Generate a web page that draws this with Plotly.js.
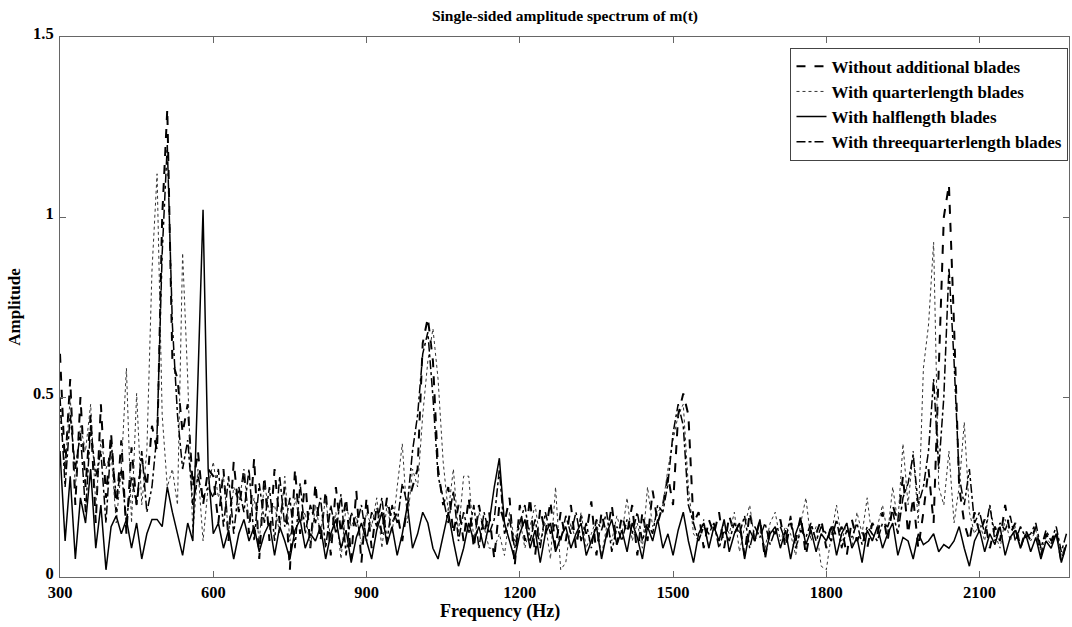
<!DOCTYPE html>
<html>
<head>
<meta charset="utf-8">
<script src="https://cdn.plot.ly/plotly-3.0.1.min.js"></script>
<style>html,body{margin:0;padding:0;background:#fff;}#chart{width:1072px;height:627px;}</style>
</head>
<body>
<div id="chart"></div>
<script>
// Frequency grid (Hz), 10 Hz resolution
const frequency = [
 300,310,320,330,340,350,360,370,380,390,
 400,410,420,430,440,450,460,470,480,490,
 500,510,520,530,540,550,560,570,580,590,
 600,610,620,630,640,650,660,670,680,690,
 700,710,720,730,740,750,760,770,780,790,
 800,810,820,830,840,850,860,870,880,890,
 900,910,920,930,940,950,960,970,980,990,
 1000,1010,1020,1030,1040,1050,1060,1070,1080,1090,
 1100,1110,1120,1130,1140,1150,1160,1170,1180,1190,
 1200,1210,1220,1230,1240,1250,1260,1270,1280,1290,
 1300,1310,1320,1330,1340,1350,1360,1370,1380,1390,
 1400,1410,1420,1430,1440,1450,1460,1470,1480,1490,
 1500,1510,1520,1530,1540,1550,1560,1570,1580,1590,
 1600,1610,1620,1630,1640,1650,1660,1670,1680,1690,
 1700,1710,1720,1730,1740,1750,1760,1770,1780,1790,
 1800,1810,1820,1830,1840,1850,1860,1870,1880,1890,
 1900,1910,1920,1930,1940,1950,1960,1970,1980,1990,
 2000,2010,2020,2030,2040,2050,2060,2070,2080,2090,
 2100,2110,2120,2130,2140,2150,2160,2170,2180,2190,
 2200,2210,2220,2230,2240,2250,2260,2270
];

// Without additional blades (dashed)
const withoutBlades = [
 0.62,0.30,0.55,0.20,0.50,0.25,0.45,0.15,0.48,0.22,
 0.40,0.18,0.38,0.12,0.36,0.20,0.33,0.25,0.42,0.35,
 1.00,1.30,0.60,0.55,0.40,0.48,0.25,0.35,0.20,0.30,
 0.28,0.15,0.30,0.10,0.32,0.18,0.30,0.12,0.33,0.05,
 0.28,0.10,0.30,0.15,0.25,0.02,0.30,0.12,0.27,0.08,
 0.26,0.10,0.24,0.06,0.25,0.12,0.22,0.05,0.24,0.04,
 0.22,0.08,0.20,0.12,0.22,0.15,0.18,0.10,0.20,0.25,
 0.30,0.65,0.72,0.60,0.30,0.20,0.25,0.12,0.20,0.10,
 0.22,0.08,0.20,0.12,0.18,0.05,0.20,0.15,0.22,0.03,
 0.20,0.10,0.22,0.06,0.19,0.12,0.21,0.08,0.18,0.10,
 0.20,0.08,0.17,0.12,0.21,0.06,0.18,0.11,0.20,0.09,
 0.17,0.12,0.20,0.06,0.18,0.10,0.24,0.15,0.20,0.28,
 0.20,0.45,0.51,0.45,0.15,0.18,0.08,0.16,0.12,0.18,
 0.08,0.17,0.12,0.15,0.06,0.18,0.10,0.16,0.05,0.14,
 0.12,0.16,0.08,0.15,0.10,0.17,0.06,0.14,0.12,0.16,
 0.08,0.15,0.11,0.14,0.06,0.16,0.10,0.13,0.08,0.15,
 0.12,0.18,0.10,0.20,0.15,0.28,0.12,0.22,0.08,0.18,
 0.30,0.15,0.55,1.00,1.09,0.70,0.25,0.15,0.10,0.18,
 0.12,0.16,0.08,0.14,0.10,0.20,0.12,0.15,0.08,0.13,
 0.10,0.14,0.06,0.12,0.09,0.13,0.04,0.10
];

// With quarterlength blades (dotted)
const quarterBlades = [
 0.45,0.30,0.50,0.25,0.42,0.35,0.48,0.20,0.38,0.30,
 0.35,0.15,0.30,0.58,0.15,0.51,0.20,0.35,0.85,1.12,
 0.45,0.25,0.30,0.20,0.90,0.55,0.12,0.30,0.10,0.25,
 0.32,0.22,0.28,0.12,0.25,0.20,0.30,0.15,0.22,0.10,
 0.26,0.18,0.20,0.12,0.28,0.10,0.22,0.15,0.18,0.08,
 0.20,0.12,0.22,0.10,0.18,0.05,0.20,0.14,0.17,0.09,
 0.18,0.14,0.22,0.08,0.20,0.12,0.25,0.37,0.15,0.30,
 0.25,0.45,0.60,0.69,0.55,0.32,0.18,0.30,0.12,0.28,
 0.28,0.10,0.18,0.14,0.08,0.08,0.12,0.06,0.18,0.10,
 0.16,0.08,0.14,0.20,0.10,0.15,0.05,0.25,0.02,0.04,
 0.15,0.10,0.18,0.08,0.12,0.16,0.06,0.14,0.10,0.17,
 0.12,0.22,0.10,0.15,0.08,0.25,0.14,0.18,0.20,0.30,
 0.38,0.45,0.48,0.25,0.12,0.10,0.16,0.08,0.14,0.10,
 0.15,0.12,0.18,0.07,0.14,0.20,0.10,0.13,0.08,0.15,
 0.18,0.10,0.14,0.12,0.06,0.15,0.22,0.10,0.14,0.03,
 0.02,0.12,0.20,0.10,0.15,0.08,0.18,0.12,0.22,0.10,
 0.14,0.20,0.12,0.25,0.15,0.37,0.20,0.35,0.15,0.58,
 0.70,0.93,0.25,0.20,0.35,0.15,0.25,0.43,0.18,0.12,
 0.15,0.10,0.20,0.12,0.08,0.16,0.10,0.14,0.08,0.12,
 0.10,0.13,0.07,0.11,0.09,0.12,0.06,0.09
];

// With halflength blades (solid)
const halfBlades = [
 0.35,0.10,0.28,0.05,0.22,0.15,0.30,0.08,0.20,0.02,
 0.14,0.17,0.12,0.16,0.08,0.15,0.05,0.12,0.16,0.16,
 0.14,0.25,0.18,0.12,0.06,0.15,0.10,0.55,1.02,0.30,
 0.12,0.15,0.08,0.13,0.05,0.12,0.16,0.10,0.14,0.07,
 0.12,0.15,0.06,0.14,0.10,0.05,0.13,0.16,0.08,0.12,
 0.10,0.14,0.05,0.12,0.16,0.08,0.13,0.04,0.11,0.15,
 0.10,0.05,0.13,0.18,0.09,0.14,0.06,0.12,0.20,0.08,
 0.12,0.18,0.15,0.08,0.05,0.12,0.18,0.10,0.03,0.08,
 0.15,0.10,0.14,0.08,0.15,0.25,0.33,0.15,0.10,0.05,
 0.12,0.16,0.08,0.13,0.04,0.12,0.15,0.07,0.11,0.14,
 0.08,0.12,0.15,0.06,0.10,0.14,0.05,0.12,0.16,0.09,
 0.13,0.07,0.15,0.11,0.05,0.14,0.10,0.16,0.08,0.12,
 0.06,0.13,0.18,0.10,0.04,0.12,0.15,0.08,0.14,0.10,
 0.16,0.07,0.12,0.15,0.05,0.13,0.10,0.16,0.06,0.12,
 0.14,0.08,0.13,0.05,0.12,0.16,0.09,0.13,0.07,0.12,
 0.10,0.14,0.06,0.12,0.15,0.08,0.11,0.04,0.13,0.10,
 0.14,0.08,0.12,0.15,0.06,0.11,0.10,0.05,0.12,0.09,
 0.10,0.12,0.07,0.09,0.08,0.10,0.14,0.08,0.03,0.10,
 0.13,0.07,0.12,0.09,0.14,0.06,0.11,0.13,0.08,0.12,
 0.07,0.11,0.05,0.10,0.08,0.12,0.04,0.09
];

// With threequarterlength blades (dash-dot)
const threeQuarterBlades = [
 0.50,0.25,0.45,0.30,0.40,0.18,0.42,0.28,0.35,0.15,
 0.38,0.22,0.30,0.15,0.28,0.20,0.35,0.18,0.25,0.40,
 0.90,1.20,0.70,0.45,0.30,0.38,0.20,0.28,0.22,0.25,
 0.22,0.30,0.14,0.28,0.12,0.25,0.18,0.30,0.10,0.26,
 0.15,0.25,0.10,0.28,0.14,0.22,0.08,0.26,0.12,0.20,
 0.15,0.22,0.08,0.20,0.12,0.23,0.06,0.18,0.14,0.20,
 0.10,0.18,0.14,0.22,0.10,0.20,0.15,0.26,0.20,0.35,
 0.45,0.62,0.68,0.50,0.28,0.22,0.15,0.24,0.10,0.18,
 0.12,0.20,0.08,0.18,0.12,0.16,0.30,0.12,0.16,0.08,
 0.15,0.20,0.10,0.16,0.08,0.18,0.12,0.15,0.10,0.17,
 0.12,0.18,0.10,0.15,0.08,0.16,0.13,0.18,0.07,0.14,
 0.10,0.16,0.12,0.18,0.10,0.15,0.12,0.20,0.18,0.26,
 0.40,0.48,0.42,0.20,0.15,0.10,0.14,0.12,0.15,0.08,
 0.13,0.10,0.15,0.12,0.17,0.08,0.14,0.11,0.15,0.09,
 0.13,0.14,0.10,0.17,0.08,0.13,0.11,0.15,0.10,0.14,
 0.12,0.10,0.16,0.08,0.13,0.11,0.15,0.09,0.14,0.12,
 0.10,0.15,0.14,0.18,0.12,0.22,0.26,0.34,0.20,0.25,
 0.35,0.55,0.30,0.50,0.86,0.60,0.28,0.20,0.30,0.15,
 0.18,0.12,0.20,0.10,0.15,0.13,0.17,0.10,0.14,0.11,
 0.12,0.15,0.08,0.13,0.10,0.14,0.07,0.12
];

const seriesNames = [
  'Without additional blades',
  'With quarterlength blades',
  'With halflength blades',
  'With threequarterlength blades'
];
const xTicks = [300, 600, 900, 1200, 1500, 1800, 2100];
const yTicks = [0, 0.5, 1, 1.5];
const yTickText = ['0', '0.5', '1', '1.5'];

const FONT = 'Liberation Serif, Times New Roman, serif';

const traces = [
  {x: frequency, y: withoutBlades, name: seriesNames[0], mode: 'lines',
   line: {color: '#000', width: 2, dash: 'dash'}},
  {x: frequency, y: quarterBlades, name: seriesNames[1], mode: 'lines',
   line: {color: '#333', width: 1, dash: 'dot'}},
  {x: frequency, y: halfBlades, name: seriesNames[2], mode: 'lines',
   line: {color: '#000', width: 1.5, dash: 'solid'}},
  {x: frequency, y: threeQuarterBlades, name: seriesNames[3], mode: 'lines',
   line: {color: '#000', width: 1.5, dash: 'dashdot'}}
];

const layout = {
  width: 1072, height: 627,
  margin: {l: 60, r: 3, t: 37, b: 50},
  paper_bgcolor: '#fff', plot_bgcolor: '#fff',
  showlegend: true,
  title: {text: 'Single-sided amplitude spectrum of m(t)', x: 0.527, xanchor: 'center', y: 0.975, yanchor: 'middle',
          font: {family: FONT, size: 15.5, weight: 'bold', color: '#000'}},
  xaxis: {
    range: [300, 2275], tickvals: xTicks, ticktext: xTicks.map(String),
    ticks: 'inside', ticklen: 6, tickcolor: '#666', showline: true, linecolor: '#666', linewidth: 1,
    mirror: 'ticks', showgrid: false, zeroline: false, ticklabelstandoff: 0,
    tickfont: {family: FONT, size: 16.5, weight: 'bold', color: '#000'}
  },
  yaxis: {
    range: [0, 1.5], tickvals: yTicks, ticktext: yTickText,
    ticks: 'inside', ticklen: 6, tickcolor: '#666', showline: true, linecolor: '#666', linewidth: 1,
    mirror: 'ticks', showgrid: false, zeroline: false, ticklabelshift: -4, ticklabelstandoff: 2,
    tickfont: {family: FONT, size: 16.5, weight: 'bold', color: '#000'},
    title: {text: 'Amplitude', standoff: 8, font: {family: FONT, size: 17, weight: 'bold', color: '#000'}}
  },
  annotations: [{
    text: 'Frequency (Hz)', xref: 'paper', yref: 'paper', x: 0.436, y: -0.063,
    xanchor: 'center', yanchor: 'middle', showarrow: false,
    font: {family: FONT, size: 18, weight: 'bold', color: '#000'}
  }],
  legend: {
    x: 0.9995, xanchor: 'right', y: 0.98, yanchor: 'top',
    bgcolor: '#fff', bordercolor: '#444', borderwidth: 1,
    font: {family: FONT, size: 17, weight: 'bold', color: '#000'},
    tracegroupgap: 0, itemwidth: 30
  }
};

Plotly.newPlot('chart', traces, layout, {displayModeBar: false, staticPlot: true});
</script>
</body>
</html>
